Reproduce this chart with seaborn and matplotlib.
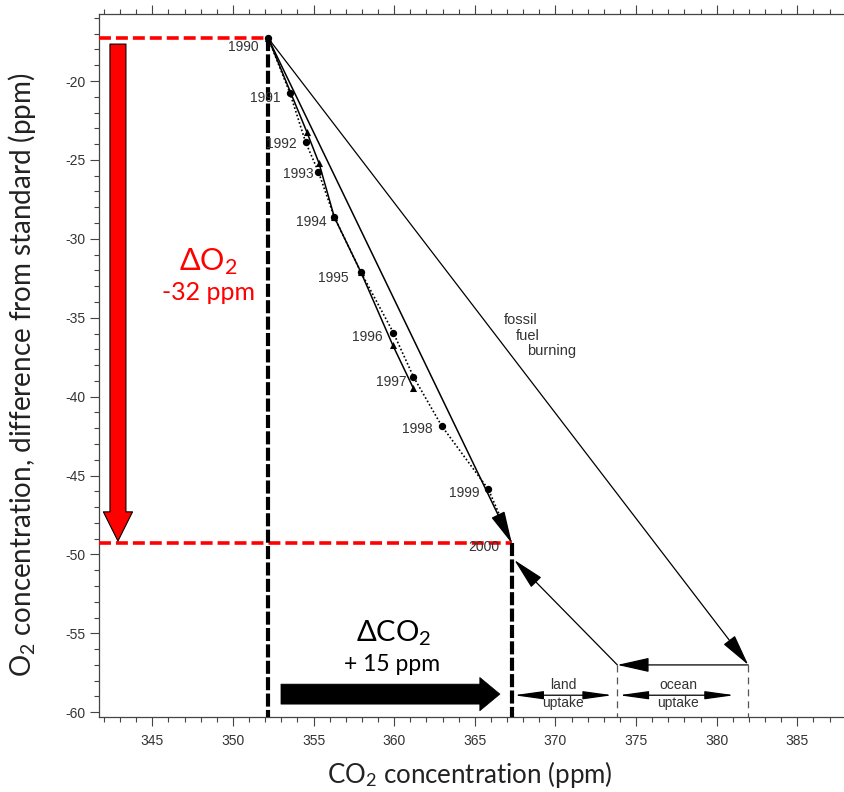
import matplotlib
matplotlib.use("Agg")
import matplotlib.pyplot as plt
import seaborn as sns
import pandas as pd
from matplotlib.ticker import MultipleLocator

# ---------------- data ----------------
years = [1990, 1991, 1992, 1993, 1994, 1995, 1996, 1997, 1998, 1999, 2000]
co2_flask = [352.19, 353.54, 354.51, 355.30, 356.29, 357.94, 359.95, 361.19, 362.95, 365.84, 367.30]
o2_flask = [-17.29, -20.78, -23.88, -25.75, -28.63, -32.12, -35.95, -38.73, -41.86, -45.87, -49.30]

tri_years = [1990, 1992, 1993, 1994, 1995, 1996, 1997]
co2_tri = [352.19, 354.58, 355.34, 356.29, 357.94, 359.91, 361.19]
o2_tri = [-17.29, -23.22, -25.21, -28.63, -32.12, -36.73, -39.47]

fossil_end_co2 = 381.96      # end of the fossil fuel burning vector
land_ocean_split_co2 = 373.84
budget_o2 = -57.0

x_label = "CO$_2$ concentration (ppm)"
y_label = "O$_2$ concentration, difference from standard (ppm)"
delta_o2_lines = ["ΔO$_2$", "-32 ppm"]
delta_co2_lines = ["ΔCO$_2$", "+ 15 ppm"]
fossil_words = ["fossil", "fuel", "burning"]

# ---------------- style ----------------
sns.set_theme(style="ticks")
plt.rcParams["font.family"] = ["Liberation Sans", "DejaVu Sans"]
plt.rcParams["axes.unicode_minus"] = False
plt.rcParams["mathtext.fontset"] = "custom"
plt.rcParams["mathtext.rm"] = "Lato"
plt.rcParams["mathtext.it"] = "Lato:italic"
plt.rcParams["mathtext.bf"] = "Lato:bold"
plt.rcParams["lines.scale_dashes"] = False

fig = plt.figure(figsize=(8.44, 7.92), dpi=100)
ax = fig.add_axes([99 / 844, 75 / 792, 745 / 844, 703 / 792])
xlim = (341.695, 387.896)
ylim = (-60.30, -15.754)
ax.set_xlim(*xlim)
ax.set_ylim(*ylim)

flask = pd.DataFrame({"year": years, "co2": co2_flask, "o2": o2_flask})
tri = pd.DataFrame({"year": tri_years, "co2": co2_tri, "o2": o2_tri})

# dotted flask series with circles
sns.lineplot(data=flask, x="co2", y="o2", sort=False, estimator=None, color="black",
             lw=1.2, linestyle=(0, (1.2, 1.6)), ax=ax, zorder=3)
sns.scatterplot(data=flask.iloc[:-1], x="co2", y="o2", marker="o", s=28, color="black",
                edgecolor="black", linewidth=0, ax=ax, zorder=5)
# solid series with triangles
sns.lineplot(data=tri, x="co2", y="o2", sort=False, estimator=None, color="black",
             lw=1.1, ax=ax, zorder=3)
sns.scatterplot(data=tri, x="co2", y="o2", marker="^", s=26, color="black",
                edgecolor="black", linewidth=0, ax=ax, zorder=5)

small = 10
# year labels
label_offsets_px = [(-10, -9), (-10, -5), (-9, -2), (-5, -2), (-8, -5), (-12, -6),
                    (-11, -4), (-7, -5), (-9, -3), (-9, -4), (-13, -4)]
for yr, cx, oy, off in zip(years, co2_flask, o2_flask, label_offsets_px):
    ax.annotate(str(yr), xy=(cx, oy), xytext=off, textcoords="offset pixels",
                ha="right", va="center", fontsize=small, color="#333333", zorder=6)

head = "-|>,head_length=2.0,head_width=0.45"
# straight 1990 -> 2000 vector
ax.annotate("", xy=(co2_flask[-1], o2_flask[-1]), xytext=(co2_flask[0], o2_flask[0]),
            arrowprops=dict(arrowstyle=head, mutation_scale=10, color="black", lw=1.1,
                            shrinkA=0, shrinkB=0), zorder=4)
# fossil fuel burning vector
ax.annotate("", xy=(fossil_end_co2, budget_o2), xytext=(co2_flask[0], o2_flask[0]),
            arrowprops=dict(arrowstyle=head, mutation_scale=10, color="black", lw=0.9,
                            shrinkA=0, shrinkB=0), zorder=4)
# ocean uptake vector
ax.annotate("", xy=(land_ocean_split_co2, budget_o2), xytext=(fossil_end_co2, budget_o2),
            arrowprops=dict(arrowstyle=head, mutation_scale=10, color="black", lw=0.9,
                            shrinkA=0, shrinkB=0), zorder=4)
# land uptake vector
land_tip = (367.45, -50.35)
ax.annotate("", xy=land_tip, xytext=(land_ocean_split_co2, budget_o2),
            arrowprops=dict(arrowstyle=head, mutation_scale=10, color="black", lw=0.9,
                            shrinkA=0, shrinkB=0), zorder=4)

# thin dashed verticals for the budget
for xv in (land_ocean_split_co2, fossil_end_co2):
    ax.plot([xv, xv], [budget_o2, ylim[0]], color="#555555", lw=0.9,
            linestyle=(0, (5, 3.6)), zorder=2)

# double arrows: land / ocean uptake
dbl = "<|-|>,head_length=1.8,head_width=0.25"
dbl_y = -58.92
ax.annotate("", xy=(co2_flask[-1] + 0.12, dbl_y), xytext=(land_ocean_split_co2 - 0.3, dbl_y),
            arrowprops=dict(arrowstyle=dbl, mutation_scale=10, color="black", lw=0.9,
                            shrinkA=0, shrinkB=0))
ax.annotate("", xy=(land_ocean_split_co2 + 0.1, dbl_y), xytext=(381.1, dbl_y),
            arrowprops=dict(arrowstyle=dbl, mutation_scale=10, color="black", lw=0.9,
                            shrinkA=0, shrinkB=0))
for cx, word in ((370.5, "land"), (377.6, "ocean")):
    ax.text(cx, -58.28, word, ha="center", va="center", fontsize=small, color="#333333")
    ax.text(cx, -59.42, "uptake", ha="center", va="center", fontsize=small, color="#333333")

# fossil fuel burning label
for word, fx, fy in zip(fossil_words, (366.77, 367.57, 368.25), (-35.15, -36.16, -37.1)):
    ax.text(fx, fy, word, ha="left", va="center", fontsize=10.5, color="#333333")

# red dashed horizontals and black dashed verticals
ax.plot([xlim[0], co2_flask[0]], [o2_flask[0]] * 2, color="red", lw=2.6,
        linestyle=(0, (8.6, 3.6)), zorder=4)
ax.plot([xlim[0], co2_flask[-1]], [o2_flask[-1]] * 2, color="red", lw=2.6,
        linestyle=(0, (8.6, 3.6)), zorder=4)
ax.plot([co2_flask[0]] * 2, [o2_flask[0], ylim[0]], color="black", lw=3.0,
        linestyle=(0, (9.4, 2.4)), zorder=4)
ax.plot([co2_flask[-1]] * 2, [o2_flask[-1], ylim[0]], color="black", lw=3.0,
        linestyle=(0, (9.4, 2.4)), zorder=4)

# big red arrow (delta O2) and big black arrow (delta CO2)
ax.annotate("", xy=(342.87, -49.15), xytext=(342.87, -17.66),
            arrowprops=dict(arrowstyle="simple,head_length=2.1,head_width=2.1,tail_width=1.15",
                            mutation_scale=10, fc="red", ec="black", lw=0.8,
                            shrinkA=0, shrinkB=0), zorder=4)
ax.annotate("", xy=(366.56, -58.85), xytext=(352.98, -58.85),
            arrowprops=dict(arrowstyle="simple,head_length=1.45,head_width=2.4,tail_width=1.44",
                            mutation_scale=10, fc="black", ec="black", lw=0.5,
                            shrinkA=0, shrinkB=0), zorder=4)

big_font = ["Lato", "DejaVu Sans"]
ax.text(348.5, -31.47, delta_o2_lines[0], ha="center", va="center", fontsize=22,
        color="red", family=big_font)
ax.text(348.5, -33.43, delta_o2_lines[1], ha="center", va="center", fontsize=18,
        color="red", family=big_font)
ax.text(359.96, -54.98, delta_co2_lines[0], ha="center", va="center", fontsize=21,
        color="black", family=big_font)
ax.text(359.87, -56.95, delta_co2_lines[1], ha="center", va="center", fontsize=16.5,
        color="black", family=big_font)

# axes cosmetics
ax.xaxis.set_major_locator(MultipleLocator(5))
ax.xaxis.set_minor_locator(MultipleLocator(1))
ax.yaxis.set_major_locator(MultipleLocator(5))
ax.yaxis.set_minor_locator(MultipleLocator(1))
ax.tick_params(which="both", direction="out", top=True, right=False, labeltop=False,
               colors="#444444", labelcolor="#333333", width=0.8, labelsize=10)
ax.tick_params(axis="x", which="major", pad=6)
ax.tick_params(axis="y", which="major", pad=3)
ax.tick_params(which="major", length=6.5)
ax.tick_params(which="minor", length=3.5)
for side in ("left", "bottom", "top"):
    ax.spines[side].set_color("#444444")
    ax.spines[side].set_linewidth(0.9)
ax.spines["right"].set_visible(False)

ax.set_xlabel(x_label, fontsize=18.6, family=big_font, color="#222222")
ax.set_ylabel(y_label, fontsize=20, family=big_font, color="#222222")
ax.xaxis.label.set_va("center")
ax.yaxis.label.set_va("center")
ax.xaxis.set_label_coords(0.498, -0.0825)
ax.yaxis.set_label_coords(-0.1034, 0.4865)

fig.savefig("out.png", dpi=100)
